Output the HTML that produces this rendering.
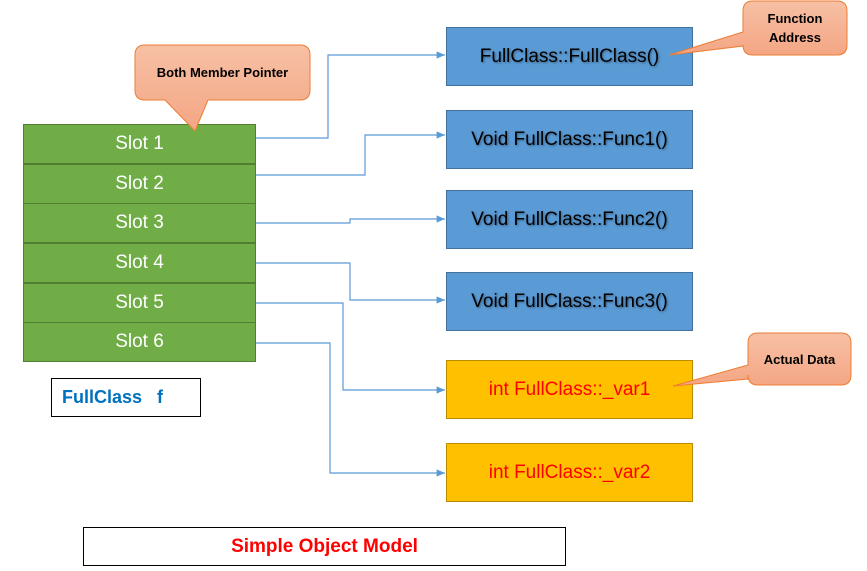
<!DOCTYPE html>
<html><head><style>
body{margin:0;width:867px;height:571px;background:#fff;position:relative;overflow:hidden;font-family:"Liberation Sans",sans-serif}
.a{position:absolute;box-sizing:border-box;display:flex;align-items:center;justify-content:center}
.slot{left:23px;width:233px;height:40px;background:#70ad47;border:1px solid #507e32;color:#fff;font-size:19px}
.blue{left:446px;width:247px;height:59px;background:#5b9bd5;border:1px solid #41719c;color:#000;font-size:19px;text-shadow:1px 1px 2px rgba(0,0,0,.4)}
.yel{left:446px;width:247px;height:59px;background:#ffc000;border:1px solid #bc8c00;color:#f00;font-size:19px}
</style></head><body>
<svg width="867" height="571" style="position:absolute;left:0;top:0">
<defs>
<marker id="ar" markerWidth="8" markerHeight="8" refX="7" refY="4" orient="auto"><path d="M0,1 L7,4 L0,7z" fill="#5b9bd5"/></marker></defs>
<g fill="none" stroke="#5b9bd5" stroke-width="1.2" marker-end="url(#ar)">
<path d="M256,138 H328 V55 H445"/>
<path d="M256,175 H365 V135 H445"/>
<path d="M256,223 H350 V219 H445"/>
<path d="M256,263 H350 V300 H445"/>
<path d="M256,303 H343 V390 H445"/>
<path d="M256,343 H330 V473 H445"/>
</g>
</svg>
<div class="a slot" style="top:124px">Slot 1</div>
<div class="a slot" style="top:164px">Slot 2</div>
<div class="a slot" style="top:203px">Slot 3</div>
<div class="a slot" style="top:243px">Slot 4</div>
<div class="a slot" style="top:283px">Slot 5</div>
<div class="a slot" style="top:322px">Slot 6</div>
<div class="a blue" style="top:27px">FullClass::FullClass()</div>
<div class="a blue" style="top:110px">Void FullClass::Func1()</div>
<div class="a blue" style="top:190px">Void FullClass::Func2()</div>
<div class="a blue" style="top:272px">Void FullClass::Func3()</div>
<div class="a yel" style="top:360px">int FullClass::_var1</div>
<div class="a yel" style="top:443px">int FullClass::_var2</div>
<svg width="867" height="571" style="position:absolute;left:0;top:0">
<defs><linearGradient id="g" x1="0" y1="0" x2="0" y2="1"><stop offset="0" stop-color="#f7c0a5"/><stop offset="1" stop-color="#f4a684"/></linearGradient></defs>
<path d="M145,45 H300 Q310,45 310,55 V90 Q310,100 300,100 H208 L195,131 L165,100 H145 Q135,100 135,90 V55 Q135,45 145,45Z" fill="url(#g)" stroke="#ed7d31"/>
<path d="M753,1 H837 Q847,1 847,11 V45 Q847,55 837,55 H753 Q743,55 743,45 V46 L669,55 L743,32 V11 Q743,1 753,1Z" fill="url(#g)" stroke="#ed7d31"/>
<path d="M758,333 H841 Q851,333 851,343 V375 Q851,385 841,385 H758 Q748,385 748,375 V379 L673,386 L748,365 V343 Q748,333 758,333Z" fill="url(#g)" stroke="#ed7d31"/>
</svg>
<div class="a" style="left:135px;top:45px;width:175px;height:55px;font-size:13px;font-weight:bold">Both Member Pointer</div>
<div class="a" style="left:743px;top:1px;width:104px;height:54px;font-size:13px;font-weight:bold;text-align:center;line-height:19px">Function<br>Address</div>
<div class="a" style="left:748px;top:333px;width:103px;height:52px;font-size:13px;font-weight:bold">Actual Data</div>
<div class="a" style="left:51px;top:378px;width:150px;height:39px;border:1px solid #000;color:#0070c0;font-weight:bold;font-size:18px;justify-content:flex-start;padding-left:10px;white-space:pre">FullClass   f</div>
<div class="a" style="left:83px;top:527px;width:483px;height:39px;border:1px solid #000;color:#f00;font-weight:bold;font-size:19px">Simple Object Model</div>
</body></html>
